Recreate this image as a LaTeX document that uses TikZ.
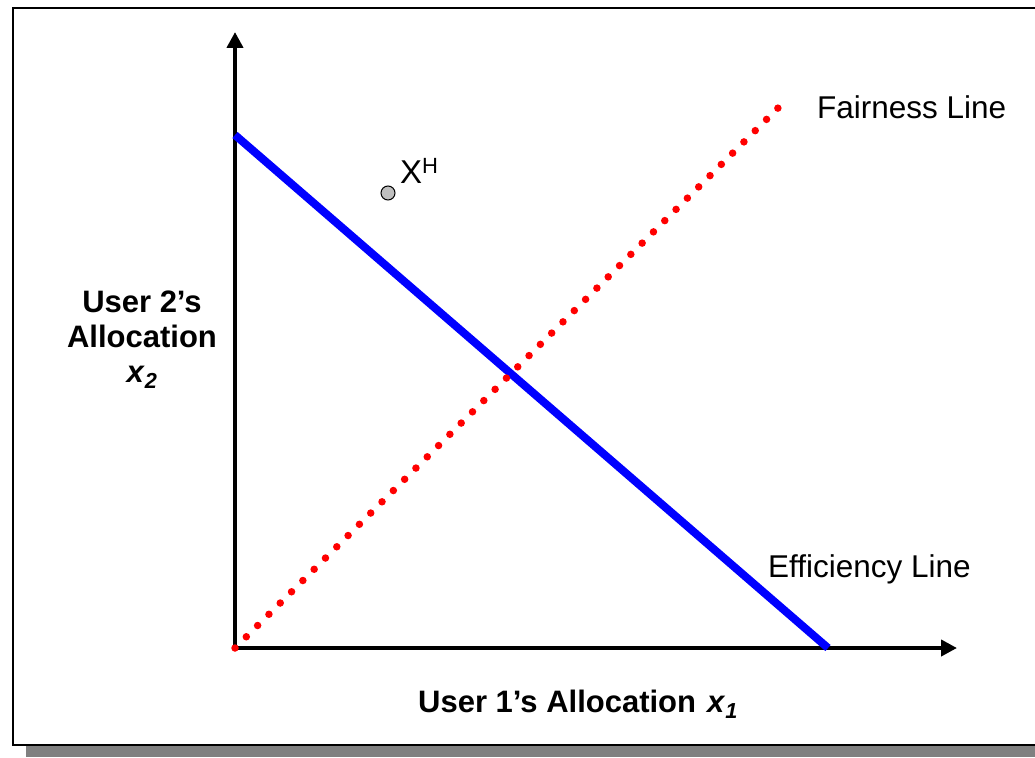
\documentclass[tikz,border=0pt]{standalone}
\usepackage{fontspec}
\setmainfont{Liberation Sans}
\usetikzlibrary{arrows.meta}

\begin{document}
\begin{tikzpicture}[x=1pt, y=-1pt, >={Triangle[length=16pt,width=16pt]},
  axis/.style={line width=4pt, <->},
  effline/.style={draw=blue, line width=8pt},
  fairline/.style={draw=red, line width=7.5pt, line cap=round, dash pattern=on 0pt off 15.95pt},
  lbl/.style={font=\fontsize{31.5}{36}\selectfont, inner sep=0pt},
  axlbl/.style={font=\fontsize{31}{35}\selectfont\bfseries, inner sep=0pt, align=center}]
  \useasboundingbox (0,0) rectangle (1035,757);
  % frame and shadow
  \fill[black!50] (26,745.5) rectangle (1035,757);
  \draw[line width=2pt] (12.5,8.5) rectangle (1045,744.5);
  % axes
  \coordinate (O) at (235,648);
  \coordinate (ytip) at (235,32);
  \coordinate (xtip) at (957,648);
  \draw[axis] (ytip) -- (O) -- (xtip);
  % efficiency line
  \coordinate (effTop) at (235,135);
  \coordinate (effBot) at (828,648);
  \draw[effline] (effTop) -- (effBot);
  % fairness line
  \coordinate (fairTop) at (778,108);
  \draw[fairline] (O) -- (fairTop);
  % point
  \node[circle, draw, line width=1pt, fill=black!25, minimum size=14pt, inner sep=0pt] (xh) at (388,193) {};
  \node[lbl, anchor=base west, font=\fontsize{33}{36}\selectfont] (xhlbl) at (400,183) {X\raisebox{10pt}{\fontsize{22}{22}\selectfont H}};
  % labels
  \node[lbl, anchor=base west] (fair) at (817,119) {Fairness Line};
  \node[lbl, anchor=base west] (eff) at (768,577) {Efficiency Line};
  \node[axlbl, anchor=base west] (xlbl) at (418,712) {User 1’s Allocation\hspace{11pt}\textit{x}\textsubscript{\textit{1}}};
  \node[axlbl, anchor=base] (ylbl) at (142,382) {User 2’s\\Allocation\\\textit{x}\textsubscript{\textit{2}}};
\end{tikzpicture}
\end{document}
